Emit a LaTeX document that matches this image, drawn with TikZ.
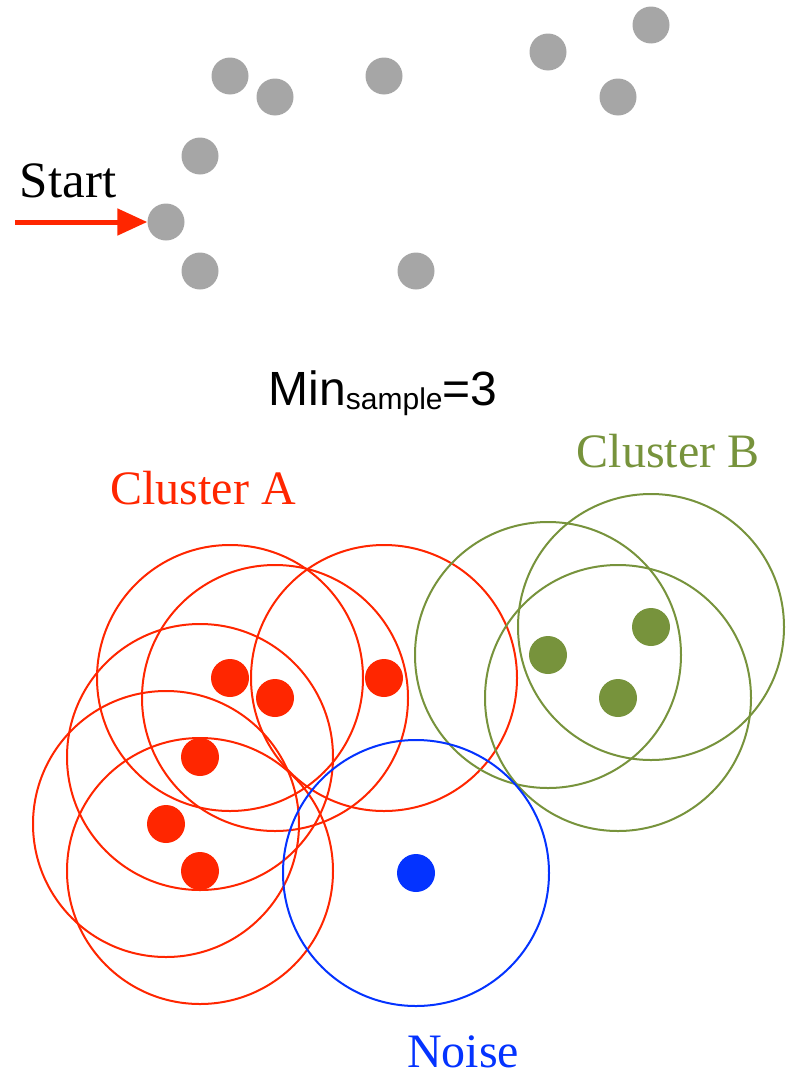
\documentclass[tikz,border=0pt]{standalone}
\usepackage{fontspec}
\setmainfont{Liberation Serif}
\setsansfont{Liberation Sans}
\usetikzlibrary{arrows.meta}
\definecolor{cgray}{HTML}{A6A6A6}
\definecolor{cred}{HTML}{FF2600}
\definecolor{cgreen}{HTML}{77933C}
\definecolor{cblue}{HTML}{0433FF}
\tikzset{
  dot/.style={circle,inner sep=0pt,minimum size=37pt,fill=#1},
  ring/.style={draw=#1,line width=2pt},
  lbl/.style={anchor=base,inner sep=0pt,font=\fontsize{48}{48}\selectfont}
}
\begin{document}
\begin{tikzpicture}[x=1pt,y=-1pt]
\useasboundingbox (0,0) rectangle (792,1076);
% top gray points
\node[dot=cgray] (g1) at (230,76) {};
\node[dot=cgray] (g2) at (275,97) {};
\node[dot=cgray] (g3) at (384,76) {};
\node[dot=cgray] (g4) at (548,52) {};
\node[dot=cgray] (g5) at (651,25) {};
\node[dot=cgray] (g6) at (618,97) {};
\node[dot=cgray] (g7) at (200,156) {};
\node[dot=cgray] (g8) at (166,222) {};
\node[dot=cgray] (g9) at (200,271) {};
\node[dot=cgray] (g10) at (416,271) {};
% start
\node[lbl,font=\fontsize{51}{51}\selectfont] (start) at (68,197) {Start};
\coordinate (s0) at (15,222);
\draw[cred,line width=5pt,-{Triangle[length=30pt,width=26pt]}] (s0) -- (g8.west);
% min sample
\node[anchor=base,inner sep=0pt,font=\sffamily\fontsize{48}{48}\selectfont] (min) at (383,405)
  {Min\raisebox{-4pt}{\fontsize{30}{30}\selectfont sample}=3};
% labels
\node[lbl,text=cred] (la) at (203,504) {Cluster A};
\node[lbl,text=cgreen] (lb) at (668,467) {Cluster B};
\node[lbl,text=cblue] (ln) at (463,1067) {Noise};
% red cluster
\foreach \n/\x/\y in {r1/230/678, r2/275/698, r3/384/678, r4/200/757, r5/166/824, r6/200/871}{
  \draw[ring=cred] (\x,\y) circle[radius=133];
  \node[dot=cred,minimum size=38pt] (\n) at (\x,\y) {};
}
% green cluster
\foreach \n/\x/\y in {b1/548/655, b2/651/627, b3/618/698}{
  \draw[ring=cgreen] (\x,\y) circle[radius=133];
  \node[dot=cgreen,minimum size=38pt] (\n) at (\x,\y) {};
}
% noise
\draw[ring=cblue] (416,873) circle[radius=133];
\node[dot=cblue,minimum size=38pt] (n1) at (416,873) {};
\end{tikzpicture}
\end{document}
